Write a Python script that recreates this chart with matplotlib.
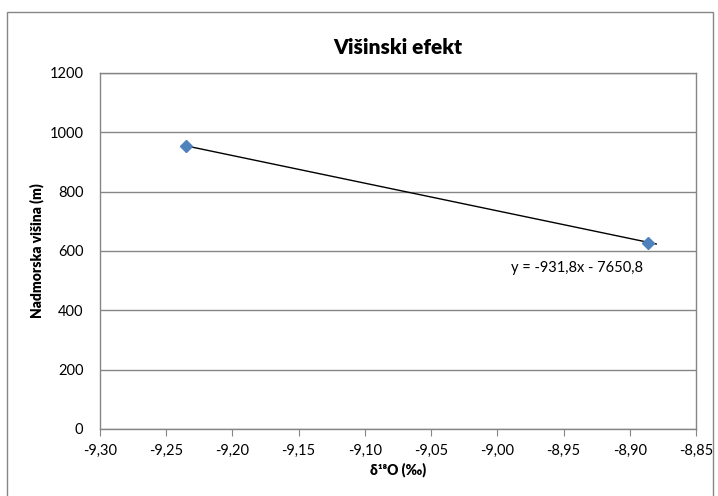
import matplotlib
matplotlib.use("Agg")
import matplotlib.pyplot as plt
from matplotlib.patches import Rectangle
from matplotlib.ticker import FuncFormatter
import numpy as np

plt.rcParams['font.family'] = ['Lato', 'DejaVu Sans']

delta18O = [-9.235, -8.886]
altitude = [955, 628]
slope = -931.8
intercept = -7650.8
x_ticks = [-9.30, -9.25, -9.20, -9.15, -9.10, -9.05, -9.00, -8.95, -8.90, -8.85]
y_ticks = [0, 200, 400, 600, 800, 1000, 1200]
title = "Višinski efekt"
xlabel = "δ¹⁸O (‰)"
ylabel = "Nadmorska višina (m)"
equation = "y = -931,8x - 7650,8"

W, H = 718, 496
fig = plt.figure(figsize=(W/100, H/100), dpi=100)
ax = fig.add_axes([100/W, 1-429/H, (696-100)/W, (429-73)/H])

gray = '#868686'
ax.set_xlim(-9.30, -8.85)
ax.set_ylim(0, 1200)
ax.set_xticks(x_ticks)
ax.set_yticks(y_ticks)
ax.xaxis.set_major_formatter(FuncFormatter(lambda v, p: f"{v:.2f}".replace('.', ',')))
ax.grid(axis='y', color=gray, linewidth=1)
ax.set_axisbelow(True)
for s in ax.spines.values():
    s.set_color(gray)
    s.set_linewidth(1)
ax.tick_params(axis='x', direction='out', length=5, color=gray, labelsize=10.5, pad=6)
ax.tick_params(axis='y', length=0, labelsize=10.5, pad=12)

xl = np.array([min(delta18O), max(delta18O) + 0.006])
ax.plot(xl, slope*xl + intercept, color='black', linewidth=1, zorder=3)
ax.plot(delta18O, altitude, linestyle='none', marker='D', markersize=6,
        color='#4F81BD', markeredgecolor='#4F81BD', zorder=4)

fig.text(398/W, 1-47/H, title, ha='center', va='center', fontsize=15, fontweight='heavy')
fig.text(398/W, 1-470/H, xlabel, ha='center', va='center', fontsize=10, fontweight='heavy')
fig.text(37/W, 1-251/H, ylabel, ha='center', va='center', fontsize=10, fontweight='heavy', rotation=90)
fig.text(511/W, 1-268/H, equation, ha='left', va='center', fontsize=10.5)

fig.patches.append(Rectangle((7/W, -0.1), (713-7)/W, 1.1-12/H, transform=fig.transFigure,
                             fill=False, edgecolor=gray, linewidth=1))

fig.savefig("out.png", dpi=100)
